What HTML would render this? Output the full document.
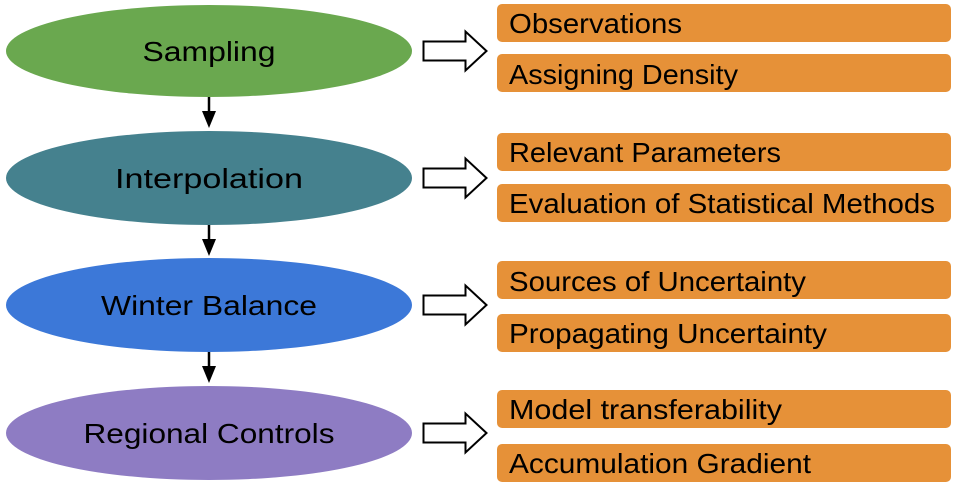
<!DOCTYPE html>
<html><head><style>
html,body{margin:0;padding:0;background:#fff;width:957px;height:489px;overflow:hidden}
text{font-family:"Liberation Sans","DejaVu Sans",sans-serif;font-size:28px;fill:#000}
</style></head><body>
<svg width="957" height="489" viewBox="0 0 957 489" xmlns="http://www.w3.org/2000/svg">
<defs>
<g id="barrow"><path d="M423.5,-9.5 H465.5 V-19.5 L486.5,0 L465.5,19.5 V9.5 H423.5 Z" fill="#fff" stroke="#000" stroke-width="2"/></g>
<g id="varrow"><line x1="209" y1="0" x2="209" y2="16" stroke="#000" stroke-width="2.5"/><path d="M202,14 L216,14 L209,31 Z" fill="#000"/></g>
</defs>
<ellipse cx="209" cy="51" rx="203" ry="46" fill="#6aa84f"/>
<ellipse cx="209" cy="178" rx="203" ry="47" fill="#45818e"/>
<ellipse cx="209" cy="305" rx="203" ry="47" fill="#3c78d8"/>
<ellipse cx="209" cy="433" rx="203" ry="47" fill="#8e7cc3"/>
<text x="209" y="61" text-anchor="middle" textLength="133" lengthAdjust="spacingAndGlyphs">Sampling</text>
<text x="209" y="188" text-anchor="middle" textLength="188" lengthAdjust="spacingAndGlyphs">Interpolation</text>
<text x="209" y="315" text-anchor="middle" textLength="216" lengthAdjust="spacingAndGlyphs">Winter Balance</text>
<text x="209" y="443" text-anchor="middle" textLength="251" lengthAdjust="spacingAndGlyphs">Regional Controls</text>
<use href="#varrow" y="97"/>
<use href="#varrow" y="225"/>
<use href="#varrow" y="352"/>
<use href="#barrow" y="51"/>
<use href="#barrow" y="178"/>
<use href="#barrow" y="305"/>
<use href="#barrow" y="433"/>
<g fill="#e69138">
<rect x="497" y="4" width="454" height="38" rx="5"/>
<rect x="497" y="54" width="454" height="38" rx="5"/>
<rect x="497" y="133" width="454" height="38" rx="5"/>
<rect x="497" y="184" width="454" height="38" rx="5"/>
<rect x="497" y="261" width="454" height="38" rx="5"/>
<rect x="497" y="314" width="454" height="38" rx="5"/>
<rect x="497" y="390" width="454" height="38" rx="5"/>
<rect x="497" y="444" width="454" height="38" rx="5"/>
</g>
<text x="509" y="33" textLength="173" lengthAdjust="spacingAndGlyphs">Observations</text>
<text x="509" y="84" textLength="229" lengthAdjust="spacingAndGlyphs">Assigning Density</text>
<text x="509" y="162" textLength="272" lengthAdjust="spacingAndGlyphs">Relevant Parameters</text>
<text x="509" y="213" textLength="426" lengthAdjust="spacingAndGlyphs">Evaluation of Statistical Methods</text>
<text x="509" y="291" textLength="297" lengthAdjust="spacingAndGlyphs">Sources of Uncertainty</text>
<text x="509" y="343" textLength="318" lengthAdjust="spacingAndGlyphs">Propagating Uncertainty</text>
<text x="509" y="419" textLength="273" lengthAdjust="spacingAndGlyphs">Model transferability</text>
<text x="509" y="473" textLength="302" lengthAdjust="spacingAndGlyphs">Accumulation Gradient</text>
</svg>
</body></html>
